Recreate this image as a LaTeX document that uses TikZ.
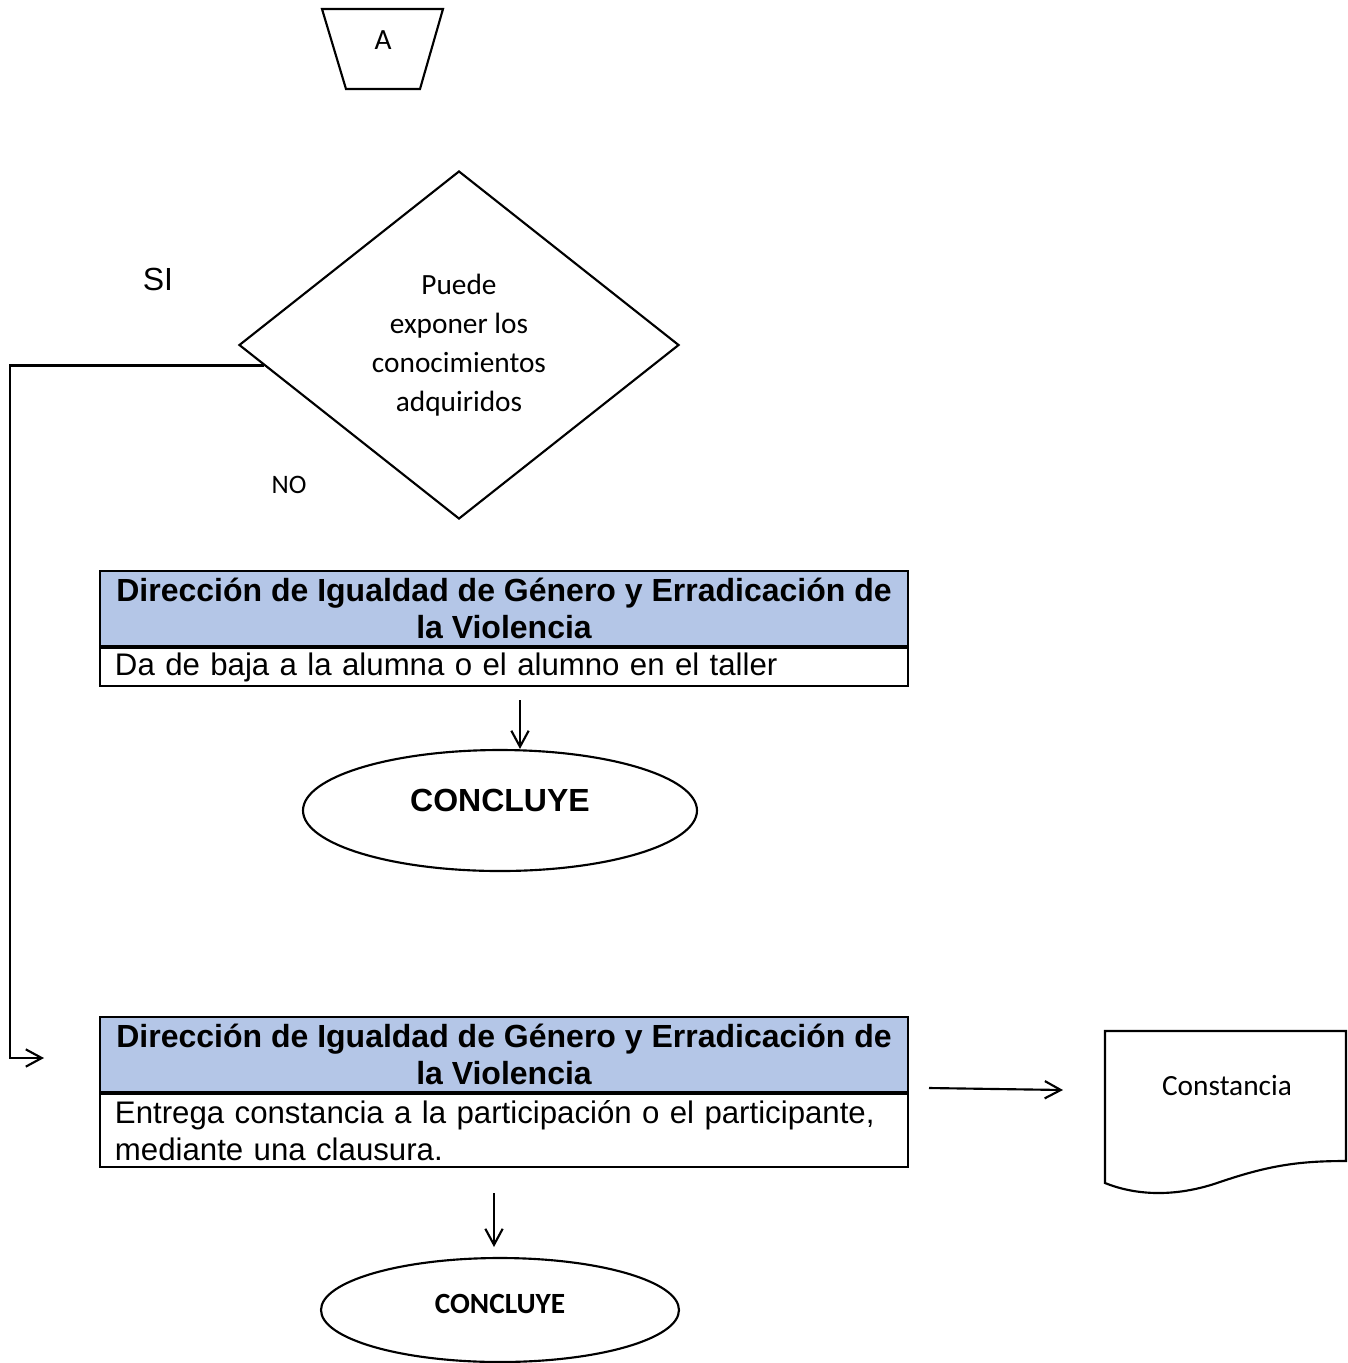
\documentclass[tikz,border=0pt]{standalone}
\usepackage{fontspec}
\setmainfont{Liberation Sans}
\newfontfamily\calibri{Carlito}
\usetikzlibrary{shapes.geometric,positioning,arrows.meta}
\definecolor{headblue}{HTML}{B4C6E7}
\tikzset{
  head/.style={draw, fill=headblue, minimum width=303pt, minimum height=28.125pt, inner sep=0pt, align=center, font=\bfseries\fontsize{12}{13.9}\selectfont},
  body/.style={draw, minimum width=303pt, text width=291.75pt, inner xsep=5.625pt, inner ysep=0pt, align=left, font=\fontsize{11.7}{13.9}\selectfont},
  fin/.style={draw, ellipse, inner sep=0pt},
  flow/.style={-{Straight Barb[length=6pt,width=6.5pt]}},
}

\begin{document}
\begin{tikzpicture}[x=0.375pt, y=-0.375pt, line width=0.8pt]
    \useasboundingbox (0,0) rectangle (1348,1363);
    % conector de pagina
    \draw (322,9) -- (443,9) -- (420,89) -- (346,89) -- cycle;
    \node[font=\calibri\fontsize{11}{13}\selectfont] (conA) at (383,40) {A};
    % decision
    \node[draw, diamond, minimum width=165pt, minimum height=130.5pt, inner sep=0pt, align=center,
          font=\calibri\fontsize{11}{14.6}\selectfont] (dec) at (459,345) {Puede\\exponer los\\conocimientos\\adquiridos};
    \node[font=\fontsize{12}{14}\selectfont] (si) at (158,279) {SI};
    \node[font=\calibri\fontsize{10}{12}\selectfont] (no) at (289,485) {NO};
    % rama NO
    \node[head] (head1) at (504,608.5) {Dirección de Igualdad de Género y Erradicación de\\la Violencia};
    \node[body, minimum height=14.25pt, below=0pt of head1] (body1) {Da de baja a la alumna o el alumno en el taller};
    \node[fin, minimum width=147.75pt, minimum height=45.375pt, text depth=7.5pt,
          font=\bfseries\fontsize{12}{14}\selectfont] (fin1) at (500,810.5) {CONCLUYE};
    \coordinate (a1) at (520,700);
    \draw[flow] (a1) -- (a1 |- fin1.north);
    % rama SI
    \coordinate (siend) at (44,1058);
    \draw[flow] (dec.186.5) -- ++(-254,0) |- (siend);
    \node[head] (head2) at (504,1054.5) {Dirección de Igualdad de Género y Erradicación de\\la Violencia};
    \node[body, minimum height=27.375pt, below=0pt of head2] (body2) {\mbox{Entrega constancia a la participación o el participante,}\\mediante una clausura.};
    % documento
    \draw (1105,1031) -- (1346,1031) -- (1346,1161) .. controls (1300,1161) and (1270,1165) .. (1220,1182)
          .. controls (1180,1196) and (1140,1197) .. (1105,1183) -- cycle;
    \node[font=\calibri\fontsize{11}{13}\selectfont] (doc) at (1227,1086) {Constancia};
    \coordinate (d1) at (929,1088);
    \coordinate (d2) at (1063,1090);
    \draw[flow] (d1) -- (d2);
    \node[fin, minimum width=134.25pt, minimum height=39pt, text depth=4.5pt,
          font=\calibri\bfseries\fontsize{11}{13}\selectfont] (fin2) at (500,1310) {CONCLUYE};
    \coordinate (a2) at (494,1193);
    \coordinate (a2e) at (494,1247);
    \draw[flow] (a2) -- (a2e);
\end{tikzpicture}
\end{document}
